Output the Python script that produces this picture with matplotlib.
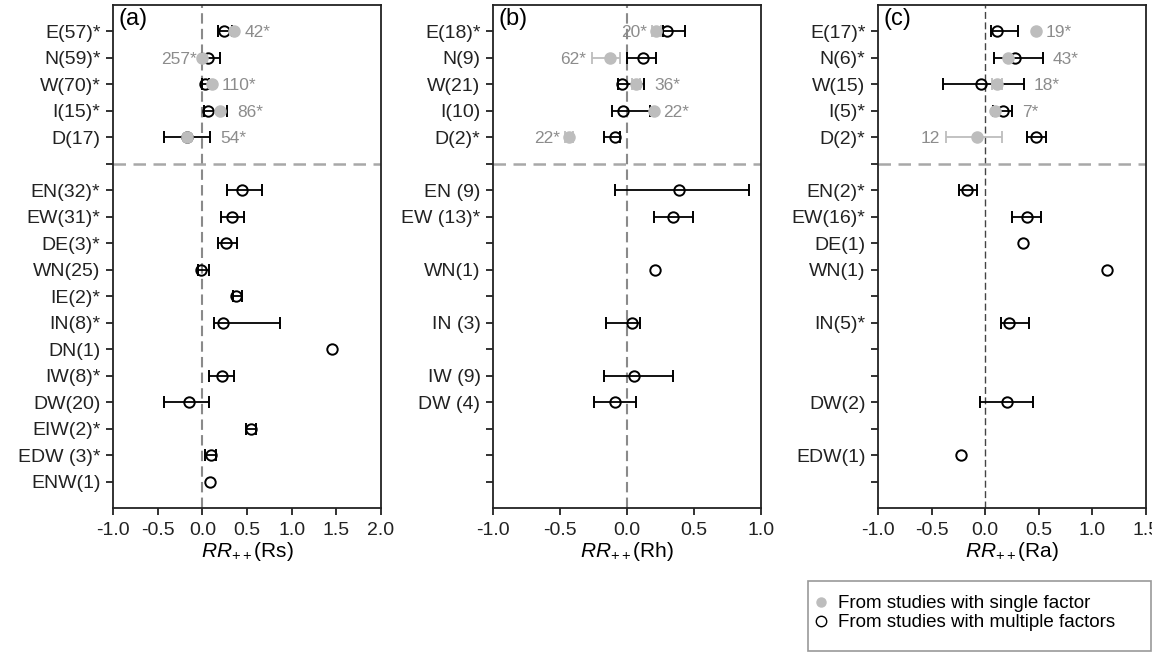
import numpy as np
import matplotlib
matplotlib.use('Agg')
import matplotlib.pyplot as plt
from matplotlib.lines import Line2D
from matplotlib.patches import Rectangle

plt.rcParams['font.family'] = ['Liberation Sans', 'DejaVu Sans']
plt.rcParams['mathtext.fontset'] = 'custom'
plt.rcParams['mathtext.rm'] = 'Liberation Sans'
plt.rcParams['mathtext.it'] = 'Liberation Sans:italic'
plt.rcParams['axes.unicode_minus'] = False

nan = np.nan

# ---- panel (a): Rs ----
labels_a = ['E(57)*', 'N(59)*', 'W(70)*', 'I(15)*', 'D(17)', '',
            'EN(32)*', 'EW(31)*', 'DE(3)*', 'WN(25)', 'IE(2)*', 'IN(8)*',
            'DN(1)', 'IW(8)*', 'DW(20)', 'EIW(2)*', 'EDW (3)*', 'ENW(1)']
multi_a = [0.24, 0.06, 0.03, 0.06, -0.17, nan, 0.44, 0.33, 0.27, -0.01, 0.38, 0.23,
           1.45, 0.22, -0.15, 0.55, 0.10, 0.09]
multi_lo_a = [0.17, 0.00, 0.00, 0.02, -0.43, nan, 0.28, 0.21, 0.17, -0.05, 0.34, 0.13,
              nan, 0.08, -0.43, 0.49, 0.03, nan]
multi_hi_a = [0.33, 0.20, 0.08, 0.28, 0.09, nan, 0.67, 0.47, 0.39, 0.07, 0.44, 0.87,
              nan, 0.36, 0.07, 0.60, 0.15, nan]
single_a = [0.36, 0.00, 0.11, 0.20, -0.17]
single_lo_a = [nan, nan, nan, nan, nan]
single_hi_a = [nan, nan, nan, nan, nan]
single_n_a = ['42*', '257*', '110*', '86*', '54*']

# ---- panel (b): Rh ----
labels_b = ['E(18)*', 'N(9)', 'W(21)', 'I(10)', 'D(2)*', '',
            'EN (9)', 'EW (13)*', '', 'WN(1)', '', 'IN (3)', '', 'IW (9)', 'DW (4)',
            '', '', '']
multi_b = [0.30, 0.12, -0.04, -0.03, -0.09, nan, 0.39, 0.34, nan, 0.21, nan, 0.04,
           nan, 0.05, -0.09, nan, nan, nan]
multi_lo_b = [0.27, 0.00, -0.07, -0.11, -0.17, nan, -0.09, 0.20, nan, nan, nan, -0.16,
              nan, -0.17, -0.25, nan, nan, nan]
multi_hi_b = [0.43, 0.22, 0.13, 0.17, -0.05, nan, 0.91, 0.49, nan, nan, nan, 0.10,
              nan, 0.34, 0.07, nan, nan, nan]
single_b = [0.22, -0.13, 0.07, 0.20, -0.43]
single_lo_b = [0.19, -0.26, 0.04, nan, -0.46]
single_hi_b = [0.25, -0.05, 0.10, nan, -0.40]
single_n_b = ['20*', '62*', '36*', '22*', '22*']

# ---- panel (c): Ra ----
labels_c = ['E(17)*', 'N(6)*', 'W(15)', 'I(5)*', 'D(2)*', '',
            'EN(2)*', 'EW(16)*', 'DE(1)', 'WN(1)', '', 'IN(5)*', '', '', 'DW(2)',
            '', 'EDW(1)', '']
multi_c = [0.11, 0.28, -0.04, 0.17, 0.47, nan, -0.17, 0.39, 0.35, 1.14, nan, 0.22,
           nan, nan, 0.20, nan, -0.23, nan]
multi_lo_c = [0.05, 0.08, -0.39, 0.07, 0.39, nan, -0.24, 0.25, nan, nan, nan, 0.15,
              nan, nan, -0.05, nan, nan, nan]
multi_hi_c = [0.31, 0.54, 0.36, 0.25, 0.57, nan, -0.08, 0.52, nan, nan, nan, 0.41,
              nan, nan, 0.45, nan, nan, nan]
single_c = [0.47, 0.21, 0.11, 0.09, -0.08]
single_lo_c = [nan, nan, 0.06, nan, -0.37]
single_hi_c = [nan, nan, 0.16, nan, 0.16]
single_n_c = ['19*', '43*', '18*', '7*', '12']

panels = [
    dict(tag='(a)', xlabel=r'$\mathit{RR}_{++}$(Rs)', xlim=(-1.0, 2.0),
         labels=labels_a, m=multi_a, mlo=multi_lo_a, mhi=multi_hi_a,
         s=single_a, slo=single_lo_a, shi=single_hi_a, sn=single_n_a,
         side=['r', 'l', 'r', 'r', 'r'], zc='#8a8a8a', zlw=1.5),
    dict(tag='(b)', xlabel=r'$\mathit{RR}_{++}$(Rh)', xlim=(-1.0, 1.0),
         labels=labels_b, m=multi_b, mlo=multi_lo_b, mhi=multi_hi_b,
         s=single_b, slo=single_lo_b, shi=single_hi_b, sn=single_n_b,
         side=['l', 'l', 'r', 'r', 'l'], zc='#8a8a8a', zlw=1.5),
    dict(tag='(c)', xlabel=r'$\mathit{RR}_{++}$(Ra)', xlim=(-1.0, 1.5),
         labels=labels_c, m=multi_c, mlo=multi_lo_c, mhi=multi_hi_c,
         s=single_c, slo=single_lo_c, shi=single_hi_c, sn=single_n_c,
         side=['r', 'r', 'r', 'r', 'l'], zc='#444444', zlw=1.0),
]

fig = plt.figure(figsize=(11.52, 6.55), dpi=100)
lefts = [113, 493, 878]
W, H = 1152, 655
gray = '#bdbdbd'
txt_gray = '#8c8c8c'

for left, p in zip(lefts, panels):
    ax = fig.add_axes([left / W, (H - 508) / H, 268 / W, 503 / H])
    n = len(p['labels'])
    y = np.arange(1, n + 1)

    m = np.array(p['m'], dtype=float)
    mlo = np.array(p['mlo'], dtype=float)
    mhi = np.array(p['mhi'], dtype=float)
    xerr = np.vstack([m - mlo, mhi - m])
    ax.errorbar(m, y, xerr=xerr, fmt='o', color='black', mfc='none', mec='black',
                ms=7.5, mew=1.4, elinewidth=1.3, capsize=4, capthick=1.3, zorder=3)

    s = np.array(p['s'], dtype=float)
    slo = np.array(p['slo'], dtype=float)
    shi = np.array(p['shi'], dtype=float)
    ys = y[:len(s)]
    ax.errorbar(s, ys, xerr=np.vstack([s - slo, shi - s]), fmt='o', color=gray,
                mfc=gray, mec=gray, ms=8, elinewidth=1.3, capsize=4, capthick=1.3, zorder=4)

    # sample size labels for single-factor studies
    for i, (val, lab, side) in enumerate(zip(s, p['sn'], p['side'])):
        pts = [val, slo[i], shi[i], m[i], mlo[i], mhi[i]]
        pts = [v for v in pts if not np.isnan(v)]
        if side == 'r':
            ax.annotate(lab, (max(pts), ys[i]), xytext=(7, -1), textcoords='offset points',
                        ha='left', va='center', color=txt_gray, fontsize=12.5)
        else:
            ax.annotate(lab, (min(pts), ys[i]), xytext=(-4, -1), textcoords='offset points',
                        ha='right', va='center', color=txt_gray, fontsize=12.5)

    ax.axvline(0, color=p['zc'], lw=p['zlw'], ls=(0, (5, 2.5)), zorder=1)
    ax.axhline(6, color='#a8a8a8', lw=1.8, ls=(0, (5, 3)), zorder=1)

    ax.set_xlim(*p['xlim'])
    ax.set_xticks(np.arange(p['xlim'][0], p['xlim'][1] + 0.01, 0.5))
    ax.set_xticklabels([f'{v:.1f}' for v in ax.get_xticks()])
    ax.set_ylim(n + 1, 0)
    ax.set_yticks(y)
    ax.set_yticklabels(p['labels'])
    ax.tick_params(axis='both', direction='out', length=5, width=1.3, labelsize=14,
                   colors='#222222')
    ax.tick_params(axis='x', pad=5)
    ax.tick_params(axis='y', pad=4)
    for sp in ax.spines.values():
        sp.set_linewidth(1.3)
        sp.set_color('#222222')
    ax.set_xlabel(p['xlabel'], fontsize=15, labelpad=1)
    ax.text(0.02, 0.995, p['tag'], transform=ax.transAxes, ha='left', va='top', fontsize=17)

# legend box at the lower right
fig.patches.append(Rectangle((808 / W, (H - 651) / H), (1151 - 808) / W, 70 / H,
                             transform=fig.transFigure, fill=False,
                             edgecolor='#999999', lw=1.2))
handles = [Line2D([], [], ls='none', marker='o', color=gray, ms=6.5),
           Line2D([], [], ls='none', marker='o', mfc='none', mec='black', ms=7.5, mew=1)]
fig.legend(handles, ['From studies with single factor', 'From studies with multiple factors'],
           loc='upper left', bbox_to_anchor=(812 / W, 1 - 595 / H), frameon=False,
           fontsize=13.5, handlelength=1.0, handletextpad=0.4, labelspacing=0.1,
           borderpad=0, borderaxespad=0)

fig.savefig('out.png', dpi=100)
